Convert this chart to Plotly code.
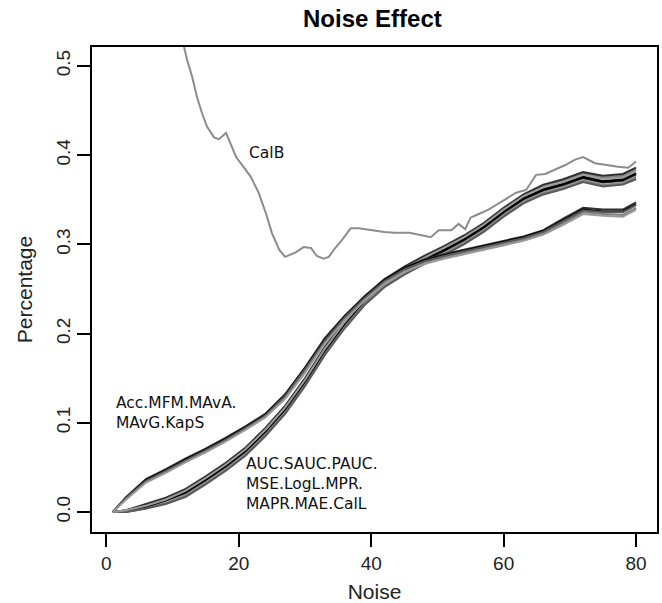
import plotly.graph_objects as go

# Noise levels at which values were read
noise = [1, 3, 6, 9, 12, 15, 18, 21, 24, 27, 30, 33, 36, 39, 42, 45, 48, 51,
         54, 57, 60, 63, 66, 69, 72, 75, 78, 80]

# Group 1: Acc, MFM, MAvA, MAvG, KapS
acc  = [0, 0.017, 0.037, 0.048, 0.060, 0.071, 0.083, 0.096, 0.110, 0.132, 0.162, 0.195, 0.220, 0.242, 0.261, 0.274, 0.283, 0.289, 0.294, 0.299, 0.304, 0.309, 0.316, 0.329, 0.341, 0.339, 0.339, 0.347]
mfm  = [0, 0.015, 0.034, 0.045, 0.057, 0.068, 0.080, 0.093, 0.107, 0.128, 0.158, 0.191, 0.216, 0.238, 0.257, 0.270, 0.279, 0.285, 0.290, 0.295, 0.300, 0.305, 0.312, 0.324, 0.336, 0.334, 0.333, 0.341]
mava = [0, 0.016, 0.036, 0.047, 0.059, 0.070, 0.082, 0.095, 0.109, 0.131, 0.161, 0.193, 0.219, 0.241, 0.260, 0.273, 0.282, 0.288, 0.293, 0.298, 0.303, 0.308, 0.315, 0.327, 0.339, 0.337, 0.337, 0.345]
mavg = [0, 0.016, 0.035, 0.046, 0.058, 0.069, 0.081, 0.094, 0.108, 0.130, 0.160, 0.192, 0.218, 0.240, 0.259, 0.272, 0.281, 0.287, 0.292, 0.297, 0.302, 0.307, 0.314, 0.326, 0.338, 0.336, 0.336, 0.344]
kaps = [0, 0.014, 0.033, 0.044, 0.056, 0.067, 0.079, 0.092, 0.106, 0.127, 0.156, 0.189, 0.215, 0.237, 0.256, 0.269, 0.278, 0.284, 0.289, 0.294, 0.299, 0.304, 0.311, 0.322, 0.334, 0.332, 0.331, 0.339]

# Group 2: AUC, SAUC, PAUC, MSE, LogL, MPR, MAPR, MAE, CalL
auc  = [0, 0.002, 0.008, 0.015, 0.025, 0.039, 0.054, 0.071, 0.093, 0.118, 0.149, 0.184, 0.214, 0.240, 0.260, 0.274, 0.286, 0.297, 0.309, 0.323, 0.340, 0.355, 0.366, 0.372, 0.380, 0.375, 0.377, 0.384]
sauc = [0, 0.001, 0.007, 0.013, 0.023, 0.037, 0.052, 0.069, 0.091, 0.116, 0.147, 0.182, 0.212, 0.238, 0.258, 0.272, 0.284, 0.294, 0.306, 0.320, 0.337, 0.352, 0.362, 0.368, 0.376, 0.371, 0.373, 0.380]
pauc = [0, 0.001, 0.006, 0.012, 0.021, 0.035, 0.050, 0.067, 0.089, 0.114, 0.145, 0.180, 0.210, 0.236, 0.256, 0.270, 0.282, 0.292, 0.304, 0.318, 0.335, 0.350, 0.360, 0.366, 0.374, 0.369, 0.371, 0.378]
mse  = [0, 0.001, 0.005, 0.011, 0.019, 0.033, 0.048, 0.065, 0.087, 0.112, 0.143, 0.178, 0.208, 0.234, 0.254, 0.268, 0.280, 0.290, 0.302, 0.316, 0.333, 0.348, 0.358, 0.364, 0.372, 0.367, 0.369, 0.376]
logl = [0, 0.002, 0.009, 0.016, 0.026, 0.040, 0.055, 0.072, 0.094, 0.119, 0.150, 0.185, 0.215, 0.241, 0.261, 0.275, 0.287, 0.298, 0.310, 0.324, 0.341, 0.356, 0.367, 0.373, 0.381, 0.377, 0.379, 0.386]
mpr  = [0, 0.000, 0.004, 0.010, 0.018, 0.032, 0.047, 0.064, 0.086, 0.111, 0.142, 0.177, 0.207, 0.233, 0.253, 0.267, 0.279, 0.289, 0.301, 0.315, 0.332, 0.347, 0.357, 0.363, 0.371, 0.366, 0.368, 0.375]
mapr = [0, 0.001, 0.006, 0.013, 0.022, 0.036, 0.051, 0.068, 0.090, 0.115, 0.146, 0.181, 0.211, 0.237, 0.257, 0.271, 0.283, 0.293, 0.305, 0.319, 0.336, 0.351, 0.361, 0.367, 0.375, 0.370, 0.372, 0.379]
mae  = [0, 0.000, 0.004, 0.009, 0.017, 0.031, 0.046, 0.063, 0.085, 0.110, 0.141, 0.176, 0.206, 0.232, 0.252, 0.266, 0.278, 0.288, 0.300, 0.314, 0.331, 0.346, 0.356, 0.362, 0.370, 0.365, 0.367, 0.373]
call = [0, 0.002, 0.007, 0.014, 0.024, 0.038, 0.053, 0.070, 0.092, 0.117, 0.148, 0.183, 0.213, 0.239, 0.259, 0.273, 0.285, 0.296, 0.308, 0.322, 0.339, 0.354, 0.364, 0.370, 0.378, 0.373, 0.375, 0.382]

# CalB (separate readings, starts above the visible range)
calb_x = [10.5, 11.75, 12.2, 12.96, 13.7, 14.46, 15.2, 16.27, 17.0, 18.08, 18.5, 19.6, 20.8, 21.8, 23.0,
          24.1, 25.0, 26.1, 27.0, 28.6, 29.8, 30.9, 31.8, 32.8, 33.6, 34.35, 35.6, 36.9, 38.1,
          39.8, 42.0, 43.5, 45.8, 49.0, 50.2, 52.1, 53.2, 54.2, 55.0, 55.9, 57.7, 59.7, 61.9,
          63.4, 64.9, 66.3, 69.3, 70.8, 72.0, 73.8, 75.3, 77.3, 78.8, 80.0]
calb_y = [0.56, 0.521, 0.507, 0.488, 0.465, 0.447, 0.432, 0.420, 0.418, 0.425, 0.417, 0.398, 0.386, 0.376, 0.358,
          0.335, 0.313, 0.294, 0.286, 0.291, 0.297, 0.296, 0.287, 0.284, 0.286, 0.294, 0.305, 0.318, 0.318,
          0.316, 0.314, 0.313, 0.313, 0.308, 0.316, 0.316, 0.323, 0.317, 0.330, 0.333, 0.339, 0.348, 0.358,
          0.361, 0.378, 0.379, 0.389, 0.395, 0.398, 0.391, 0.389, 0.387, 0.386, 0.393]

group1 = [("Acc", acc), ("MFM", mfm), ("MAvA", mava), ("MAvG", mavg), ("KapS", kaps)]
group2 = [("AUC", auc), ("SAUC", sauc), ("PAUC", pauc), ("MSE", mse), ("LogL", logl),
          ("MPR", mpr), ("MAPR", mapr), ("MAE", mae), ("CalL", call)]

palette = ["#808080", "#000000", "#5a5a5a", "#9a9a9a", "#303030"]

fig = go.Figure()
for i, (name, vals) in enumerate(group2 + group1):
    fig.add_trace(go.Scatter(x=noise, y=vals, mode="lines", name=name,
                             line=dict(color=palette[i % len(palette)], width=2)))
fig.add_trace(go.Scatter(x=calb_x, y=calb_y, mode="lines", name="CalB",
                         line=dict(color="#8c8c8c", width=2)))

ann_font = dict(family="DejaVu Sans", size=15.5, color="#111111")
fig.add_annotation(x=21.2, y=0.402, text="CalB", showarrow=False,
                   xanchor="left", yanchor="middle", font=ann_font)
fig.add_annotation(x=1.2, y=0.1115, text="Acc.MFM.MAvA.<br>MAvG.KapS", showarrow=False,
                   xanchor="left", yanchor="middle", align="left", font=ann_font)
fig.add_annotation(x=20.8, y=0.0314, text="AUC.SAUC.PAUC.<br>MSE.LogL.MPR.<br>MAPR.MAE.CalL",
                   showarrow=False, xanchor="left", yanchor="middle", align="left", font=ann_font)

axis_font = dict(family="Liberation Sans", size=19, color="#222222")
title_font = dict(family="Liberation Sans", size=21, color="#222222")
fig.update_layout(
    width=662, height=603,
    margin=dict(l=92, r=3, t=47, b=71),
    paper_bgcolor="white", plot_bgcolor="white",
    showlegend=False,
    title=dict(text="<b>Noise Effect</b>", x=0.5625, xanchor="center", y=1 - 19 / 603, yanchor="middle",
               font=dict(family="Liberation Sans", size=24, color="#000000")),
    xaxis=dict(range=[-2.16, 83.16], tickvals=[0, 20, 40, 60, 80], showgrid=False, zeroline=False,
               showline=True, linecolor="#000000", linewidth=1.5, mirror=True,
               ticks="outside", ticklen=13, tickcolor="#000000", tickwidth=1.5,
               tickfont=axis_font,
               title=dict(text="Noise", font=title_font, standoff=12)),
    yaxis=dict(range=[-0.0224, 0.5213], tickvals=[0, 0.1, 0.2, 0.3, 0.4, 0.5],
               ticktext=["0.0", "0.1", "0.2", "0.3", "0.4", "0.5"], tickangle=-90,
               showgrid=False, zeroline=False,
               showline=True, linecolor="#000000", linewidth=1.5, mirror=True,
               ticks="outside", ticklen=13, tickcolor="#000000", tickwidth=1.5,
               tickfont=axis_font,
               title=dict(text="Percentage", font=title_font, standoff=14)),
)

fig.write_html("out.html")
